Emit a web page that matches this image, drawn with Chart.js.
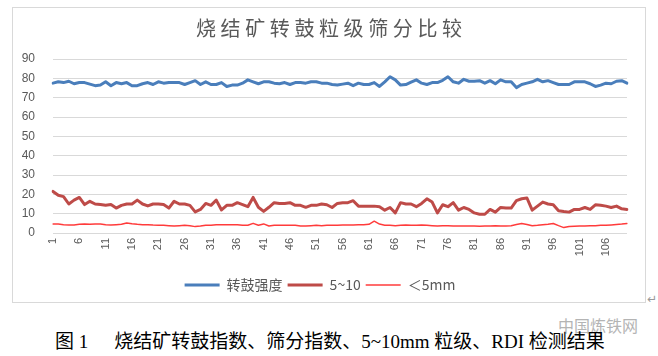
<!DOCTYPE html>
<html><head><meta charset="utf-8">
<script src="https://cdn.jsdelivr.net/npm/chart.js@4.4.1/dist/chart.umd.min.js"></script>
<style>
html,body{margin:0;padding:0;background:#fff;width:658px;height:356px;overflow:hidden;}
#box{position:absolute;left:12px;top:7px;width:632px;height:294px;border:1px solid #d9d9d9;}
#box canvas{display:block;}
#caption{position:absolute;left:55px;top:332px;font-size:19px;font-family:"Liberation Serif","Noto Sans CJK SC",serif;line-height:19px;white-space:pre;color:#000;}
#wm{position:absolute;left:558px;top:316px;font-size:16px;font-family:"Noto Sans CJK SC",sans-serif;line-height:18px;color:#b4b4b4;}
#pm{position:absolute;left:647px;top:292px;font-size:12px;font-family:"DejaVu Sans",sans-serif;color:#999;}
</style></head>
<body>
<div id="box"><canvas id="c" width="632" height="294"></canvas></div>
<div id="pm">↵</div>
<div id="wm">中国炼铁网</div>
<div id="caption">图 1<span style="display:inline-block;width:26px"></span>烧结矿转鼓指数、筛分指数、5~10mm 粒级、RDI 检测结果</div>
<script>
const chartTitle = '烧结矿转鼓粒级筛分比较';
const seriesNames = ['转鼓强度', '5~10', '＜5mm'];
const categories = ['1','2','3','4','5','6','7','8','9','10','11','12','13','14','15','16','17','18','19','20',
'21','22','23','24','25','26','27','28','29','30','31','32','33','34','35','36','37','38','39','40',
'41','42','43','44','45','46','47','48','49','50','51','52','53','54','55','56','57','58','59','60',
'61','62','63','64','65','66','67','68','69','70','71','72','73','74','75','76','77','78','79','80',
'81','82','83','84','85','86','87','88','89','90','91','92','93','94','95','96','97','98','99','100',
'101','102','103','104','105','106','107','108','109','110'];
const xTickLabels = ['1','6','11','16','21','26','31','36','41','46','51','56','61','66','71','76','81','86','91','96','101','106'];
const yTicks = [0,10,20,30,40,50,60,70,80,90];
const drumStrength = [
77.5,78.2,77.8,78.5,77.2,77.8,77.8,77.0,76.2,76.5,
78.2,76.2,77.8,77.2,77.8,76.2,76.2,77.2,77.8,76.8,
78.2,77.5,77.8,77.8,77.8,76.8,77.8,78.8,76.8,78.2,
76.8,76.8,77.8,75.8,76.5,76.5,77.5,79.2,78.2,77.2,
78.2,78.2,77.5,77.2,77.8,76.8,77.8,77.8,77.5,78.2,
78.2,77.5,77.5,76.8,76.5,77.0,77.5,76.2,77.5,76.8,
76.8,77.8,75.8,78.2,80.8,79.2,76.5,76.8,78.0,79.2,
77.5,76.8,77.8,77.8,79.0,80.8,78.2,77.5,79.5,78.5,
78.5,78.8,77.5,78.8,77.2,79.2,78.2,78.2,75.2,76.8,
77.5,78.2,79.5,78.2,78.8,77.8,76.8,76.8,76.8,78.2,
78.2,78.2,77.2,75.8,76.5,77.5,77.2,78.5,78.8,77.5];
const size5to10 = [
21.5,19.5,18.8,15.0,17.0,18.4,14.7,16.4,15.0,14.7,
14.3,14.7,12.9,14.3,15.0,15.0,17.0,15.0,14.0,15.0,
15.0,14.7,12.9,16.4,15.0,15.0,14.3,10.9,12.2,15.3,
14.3,17.0,11.9,14.3,14.3,15.7,14.7,13.6,18.4,13.3,
11.2,13.3,15.7,15.3,15.3,15.7,14.3,14.3,13.3,14.3,
14.3,15.0,14.6,13.2,15.3,15.7,15.7,16.7,13.9,13.9,
13.9,13.9,13.6,11.8,13.2,10.4,15.7,15.0,15.0,13.6,
15.3,17.7,16.0,10.4,14.6,13.6,15.7,11.8,13.2,12.2,
10.4,9.7,9.7,12.2,10.8,13.2,12.9,12.9,16.7,17.7,
18.1,11.8,13.9,16.0,15.0,14.6,11.5,11.1,10.8,12.2,
12.2,13.2,12.2,14.6,14.3,13.9,13.2,13.9,12.5,12.2];
const under5 = [
4.7,4.6,4.3,4.1,4.2,4.5,4.7,4.5,4.7,4.6,
4.3,4.1,4.3,4.5,5.2,4.8,4.5,4.3,4.3,4.1,
4.0,4.0,3.8,3.6,3.8,4.0,3.8,3.3,3.6,4.0,
4.0,4.3,4.3,4.3,4.3,4.3,4.0,4.0,5.0,4.0,
4.7,3.6,4.0,4.0,4.0,4.0,4.0,3.6,3.6,3.8,
4.0,3.8,4.0,4.0,4.0,4.2,4.2,4.2,4.3,4.3,
4.5,6.1,4.6,4.0,4.0,3.8,4.0,4.2,4.0,4.0,
4.2,4.0,3.8,3.6,3.8,3.8,3.6,3.6,3.6,3.6,
3.6,3.5,3.6,3.6,3.8,3.6,3.6,3.8,4.4,4.9,
4.4,3.8,4.0,4.3,4.5,4.9,3.8,2.8,3.4,3.5,
3.6,3.6,3.8,3.8,4.0,4.0,4.2,4.4,4.6,4.9];

const titlePlugin = {
  id: 'sketchTitle',
  afterDraw(chart) {
    const ctx = chart.ctx;
    ctx.save();
    ctx.font = '20px "Noto Sans CJK SC"';
    ctx.fillStyle = '#595959';
    ctx.textAlign = 'center';
    ctx.textBaseline = 'middle';
    if ('letterSpacing' in ctx) ctx.letterSpacing = '4.6px';
    ctx.fillText(chartTitle, chart.width / 2 + 2.3, 20);
    ctx.restore();
  }
};

new Chart(document.getElementById('c'), {
  type: 'line',
  data: {
    labels: categories,
    datasets: [
      {label: seriesNames[0], data: drumStrength, borderColor: '#4a7ebb', backgroundColor: '#4a7ebb', borderWidth: 3},
      {label: seriesNames[1], data: size5to10, borderColor: '#be4b48', backgroundColor: '#be4b48', borderWidth: 3},
      {label: seriesNames[2], data: under5, borderColor: '#ff3b3b', backgroundColor: '#ff3b3b', borderWidth: 1.5}
    ]
  },
  options: {
    responsive: false,
    animation: false,
    devicePixelRatio: 1,
    elements: {point: {radius: 0, hoverRadius: 0}, line: {tension: 0, borderJoinStyle: 'round', borderCapStyle: 'round'}},
    layout: {padding: {top: 51, right: 18, left: 0, bottom: 0}},
    plugins: {
      title: {display: false},
      tooltip: {enabled: false},
      legend: {
        position: 'bottom',
        labels: {
          usePointStyle: true, pointStyle: 'line', pointStyleWidth: 35,
          padding: 5, color: '#595959',
          font: {size: 14, family: '"Noto Sans CJK SC", "Liberation Sans", sans-serif'}
        }
      }
    },
    scales: {
      x: {
        type: 'category',
        grid: {display: false, drawTicks: false},
        border: {display: false},
        ticks: {
          autoSkip: false, minRotation: 90, maxRotation: 90, padding: 5,
          color: '#595959', font: {size: 11, family: '"Liberation Sans", sans-serif'},
          callback: function(v, i) { const c = categories[i]; return xTickLabels.includes(c) ? c : null; }
        },
        afterFit(s) { s.height = 40; }
      },
      y: {
        min: 0, max: 90,
        grid: {color: '#d9d9d9', lineWidth: 1, drawTicks: false},
        border: {display: false},
        afterBuildTicks(s) { s.ticks = yTicks.map(v => ({value: v})); },
        ticks: {padding: 18, color: '#595959', font: {size: 12, family: '"Liberation Sans", sans-serif'}},
        afterFit(s) { s.width = 40; }
      }
    }
  },
  plugins: [titlePlugin]
});
</script>
</body></html>
